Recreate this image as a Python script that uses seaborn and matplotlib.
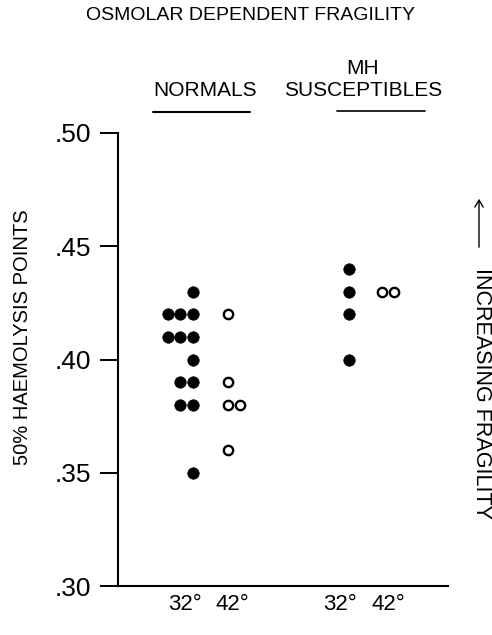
import numpy as np
import pandas as pd
import matplotlib
matplotlib.use("Agg")
import matplotlib.pyplot as plt
import seaborn as sns

# ── Data (50% haemolysis points) ─────────────────────────────────────────────
normals_32 = [0.43, 0.42, 0.42, 0.42, 0.41, 0.41, 0.41, 0.40,
              0.39, 0.39, 0.38, 0.38, 0.35]
normals_42 = [0.42, 0.39, 0.38, 0.38, 0.36]
mh_32 = [0.44, 0.43, 0.42, 0.40]
mh_42 = [0.43, 0.43]

temp_labels = ["32°", "42°", "32°", "42°"]
y_ticks = [0.30, 0.35, 0.40, 0.45, 0.50]
y_ticklabels = [".30", ".35", ".40", ".45", ".50"]

# ── Layout ───────────────────────────────────────────────────────────────────
COL_X = {"N32": 0.0, "N42": 1.0, "M32": 4.46, "M42": 5.4}
STEP = 0.36           # horizontal spacing for tied values
TICK_X = [-0.23, 1.14, 4.2, 5.6]

rows = []
for key, vals, temp in [("N32", normals_32, 32), ("N42", normals_42, 42),
                        ("M32", mh_32, 32), ("M42", mh_42, 42)]:
    for v in vals:
        rows.append({"col": key, "temp": temp, "value": v})
df = pd.DataFrame(rows)
df["rank"] = df.groupby(["col", "value"]).cumcount()
# 32° ties stack to the left, 42° ties to the right
direction = np.where(df["temp"] == 32, -1, 1)
df["x"] = df["col"].map(COL_X) + direction * df["rank"] * STEP

sns.set_theme(style="ticks")
plt.rcParams["font.family"] = ["Liberation Sans", "DejaVu Sans"]
plt.rcParams["text.color"] = "black"
plt.rcParams["xtick.color"] = "black"
plt.rcParams["ytick.color"] = "black"

fig = plt.figure(figsize=(4.92, 6.35), dpi=100)
ax = fig.add_axes([118 / 492, 1 - 586 / 635, 330 / 492, (586 - 133) / 635])

filled = df[df["temp"] == 32]
opened = df[df["temp"] == 42]
sns.scatterplot(data=filled, x="x", y="value", ax=ax, color="black",
                s=68, edgecolor="black", linewidth=0.5, legend=False)
sns.scatterplot(data=opened, x="x", y="value", ax=ax, facecolor="white",
                s=45, edgecolor="black", linewidth=1.7, legend=False)

ax.set_xlim(-2.14, 7.29)
ax.set_ylim(0.30, 0.50)
ax.set_yticks(y_ticks)
ax.set_yticklabels(y_ticklabels, fontsize=19)
ax.set_xticks(TICK_X)
ax.set_xticklabels(temp_labels, fontsize=16)
ax.tick_params(axis="y", length=13, width=1.4, pad=6, color="black")
ax.tick_params(axis="x", length=0, pad=6)
ax.set_xlabel("")
ax.set_ylabel("")
for side in ["top", "right"]:
    ax.spines[side].set_visible(False)
for side in ["left", "bottom"]:
    ax.spines[side].set_linewidth(1.5)
    ax.spines[side].set_color("black")

# ── Annotations ──────────────────────────────────────────────────────────────
def fx(px):
    return px / 492


def fy(py):
    return 1 - py / 635


fig.text(fx(250), fy(15), "OSMOLAR DEPENDENT FRAGILITY", ha="center",
         va="center", fontsize=14)
fig.text(fx(205), fy(90), "NORMALS", ha="center", va="center", fontsize=15)
fig.text(fx(363), fy(68), "MH", ha="center", va="center", fontsize=15)
fig.text(fx(363), fy(90), "SUSCEPTIBLES", ha="center", va="center", fontsize=15)
fig.add_artist(plt.Line2D([fx(153), fx(250)], [fy(112), fy(112)],
                          color="black", linewidth=1.5))
fig.add_artist(plt.Line2D([fx(337), fx(425)], [fy(111), fy(111)],
                          color="black", linewidth=1.2))

fig.text(fx(23), fy(337), "50% HAEMOLYSIS POINTS", ha="center", va="center",
         rotation=90, fontsize=14.5)
fig.text(fx(482), fy(393), "INCREASING FRAGILITY", ha="center", va="center",
         rotation=-90, fontsize=15.5)
fig.add_artist(matplotlib.patches.FancyArrowPatch(
    (fx(479), fy(250)), (fx(479), fy(196)), transform=fig.transFigure,
    arrowstyle="->,head_length=5,head_width=3", color="black", linewidth=1.0))

fig.savefig("out.png", dpi=100, facecolor="white")
